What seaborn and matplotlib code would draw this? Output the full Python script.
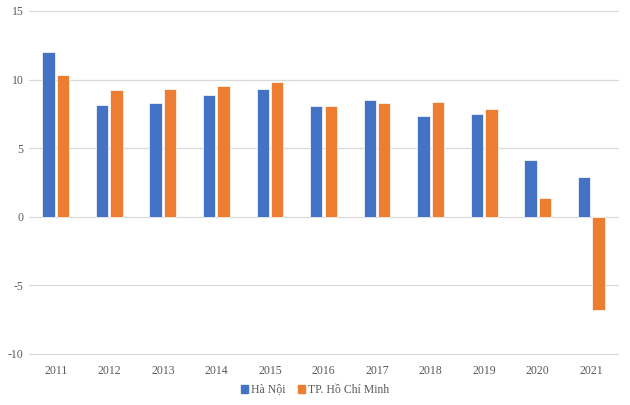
import pandas as pd
import matplotlib.pyplot as plt
import seaborn as sns

years = ['2011', '2012', '2013', '2014', '2015', '2016', '2017', '2018', '2019', '2020', '2021']
hanoi = [12.02, 8.11, 8.28, 8.84, 9.28, 8.06, 8.52, 7.36, 7.48, 4.15, 2.91]
hcm = [10.34, 9.23, 9.32, 9.54, 9.81, 8.06, 8.30, 8.35, 7.87, 1.38, -6.80]
series = ['Hà Nội', 'TP. Hồ Chí Minh']
colors = ['#4472C4', '#ED7D31']

df = pd.DataFrame({
    'year': years * 2,
    'value': hanoi + hcm,
    'city': [series[0]] * len(years) + [series[1]] * len(years),
})

sns.set_style('white')
plt.rcParams['font.family'] = ['Liberation Serif', 'DejaVu Serif']
plt.rcParams['axes.unicode_minus'] = False

fig = plt.figure(figsize=(6.3, 4.05), dpi=100)
ax = fig.add_axes([0.046, 0.126, 0.935, 0.847])

sns.barplot(data=df, x='year', y='value', hue='city', palette=colors, saturation=1,
            width=0.54, gap=0.15, ax=ax, legend=False, edgecolor='white', linewidth=0.5)

ax.set_ylim(-10, 15)
ax.set_yticks([-10, -5, 0, 5, 10, 15])
ax.set_xlim(-0.5, len(years) - 0.5)
ax.yaxis.grid(True, color='#D9D9D9', linewidth=0.9)
for gl in ax.get_ygridlines():
    gl.set_clip_on(False)
ax.set_axisbelow(True)
for s in ax.spines.values():
    s.set_visible(False)
ax.set_xlabel('')
ax.set_ylabel('')
ax.tick_params(axis='both', length=0, labelsize=8.5, labelcolor='#595959')
ax.tick_params(axis='x', pad=8)
ax.tick_params(axis='y', pad=4)

handles = [plt.Rectangle((0, 0), 1, 1, color=c) for c in colors]
fig.legend(handles, series, loc='center', bbox_to_anchor=(0.5, 0.037), ncol=2,
           frameon=False, fontsize=8.5, handlelength=0.6, handleheight=0.6,
           handletextpad=0.3, columnspacing=1.0, labelcolor='#595959')

fig.savefig('out.png', dpi=100)
